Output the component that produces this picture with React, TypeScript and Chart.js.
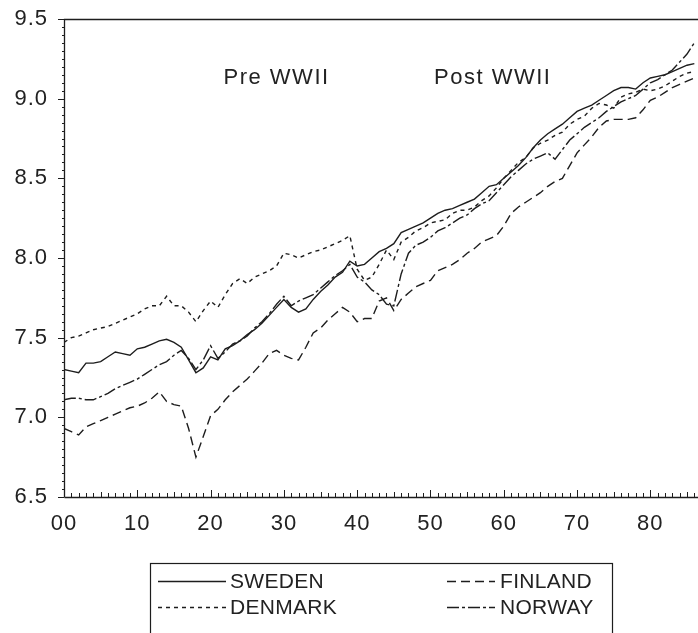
import React, { useEffect, useRef } from 'react';
import { Chart, registerables } from 'chart.js';

Chart.register(...registerables);

// ---------- data ----------
const YEARS: number[] = Array.from({ length: 87 }, (_, i) => 1900 + i);

const SWEDEN = [
  7.30, 7.29, 7.28, 7.34, 7.34, 7.35, 7.38, 7.41, 7.40, 7.39,
  7.43, 7.44, 7.46, 7.48, 7.49, 7.47, 7.44, 7.36, 7.28, 7.31,
  7.38, 7.36, 7.43, 7.45, 7.48, 7.52, 7.55, 7.59, 7.64, 7.69,
  7.74, 7.69, 7.66, 7.68, 7.74, 7.79, 7.83, 7.88, 7.91, 7.98,
  7.95, 7.96, 8.00, 8.04, 8.06, 8.09, 8.16, 8.18, 8.20, 8.22,
  8.25, 8.28, 8.30, 8.31, 8.33, 8.35, 8.37, 8.41, 8.45, 8.46,
  8.50, 8.54, 8.58, 8.63, 8.69, 8.74, 8.78, 8.81, 8.84, 8.88,
  8.92, 8.94, 8.96, 8.99, 9.02, 9.05, 9.07, 9.07, 9.06, 9.10,
  9.13, 9.14, 9.15, 9.17, 9.19, 9.21, 9.22,
];

const FINLAND = [
  6.93, 6.91, 6.89, 6.94, 6.96, 6.98, 7.00, 7.02, 7.04, 7.06,
  7.07, 7.09, 7.12, 7.16, 7.10, 7.08, 7.07, 6.93, 6.75, 6.88,
  7.01, 7.05, 7.11, 7.16, 7.20, 7.24, 7.29, 7.34, 7.40, 7.42,
  7.39, 7.37, 7.36, 7.44, 7.53, 7.56, 7.61, 7.65, 7.69, 7.66,
  7.60, 7.62, 7.62, 7.73, 7.75, 7.67, 7.74, 7.78, 7.82, 7.84,
  7.86, 7.92, 7.94, 7.96, 7.99, 8.03, 8.06, 8.10, 8.12, 8.14,
  8.20, 8.28, 8.32, 8.35, 8.38, 8.41, 8.45, 8.48, 8.50, 8.58,
  8.66, 8.71, 8.76, 8.82, 8.86, 8.87, 8.87, 8.87, 8.88, 8.93,
  8.99, 9.01, 9.04, 9.07, 9.09, 9.11, 9.13,
];

const DENMARK = [
  7.47, 7.50, 7.51, 7.53, 7.55, 7.56, 7.57, 7.59, 7.61, 7.63,
  7.65, 7.68, 7.70, 7.70, 7.76, 7.70, 7.70, 7.66, 7.60, 7.67,
  7.73, 7.69, 7.77, 7.84, 7.87, 7.84, 7.88, 7.90, 7.92, 7.95,
  8.03, 8.02, 8.00, 8.02, 8.04, 8.05, 8.07, 8.09, 8.11, 8.14,
  7.93, 7.86, 7.88, 7.96, 8.05, 7.99, 8.10, 8.13, 8.17, 8.19,
  8.22, 8.23, 8.24, 8.28, 8.30, 8.30, 8.32, 8.36, 8.39, 8.44,
  8.50, 8.55, 8.60, 8.63, 8.69, 8.72, 8.74, 8.77, 8.79, 8.84,
  8.87, 8.89, 8.94, 8.97, 8.96, 8.94, 9.01, 9.03, 9.04, 9.06,
  9.05, 9.06, 9.08, 9.11, 9.14, 9.16, 9.17,
];

const NORWAY = [
  7.11, 7.12, 7.12, 7.11, 7.11, 7.13, 7.15, 7.18, 7.20, 7.22,
  7.24, 7.27, 7.30, 7.33, 7.35, 7.39, 7.42, 7.37, 7.30, 7.36,
  7.45, 7.37, 7.41, 7.46, 7.48, 7.51, 7.56, 7.60, 7.65, 7.71,
  7.76, 7.70, 7.73, 7.75, 7.77, 7.81, 7.85, 7.89, 7.92, 7.96,
  7.88, 7.85, 7.80, 7.77, 7.71, 7.70, 7.90, 8.03, 8.08, 8.10,
  8.13, 8.17, 8.19, 8.22, 8.25, 8.27, 8.31, 8.34, 8.36, 8.41,
  8.46, 8.51, 8.55, 8.59, 8.62, 8.64, 8.66, 8.62, 8.68, 8.74,
  8.78, 8.82, 8.85, 8.88, 8.92, 8.95, 8.98, 9.00, 9.02, 9.06,
  9.10, 9.12, 9.15, 9.18, 9.23, 9.28, 9.35,
];

const X_TICKS = [1900, 1910, 1920, 1930, 1940, 1950, 1960, 1970, 1980];
const Y_TICKS = [6.5, 7.0, 7.5, 8.0, 8.5, 9.0, 9.5];
const NOTE_TEXTS = ['Pre WWII', 'Post WWII'];
const NOTE_YEARS = [1929, 1958.5];
const NOTE_VALUES = [9.13, 9.13];
const LEGEND_ROWS = [
  ['SWEDEN', 'FINLAND'],
  ['DENMARK', 'NORWAY'],
];

// ---------- style ----------
const FONT = '"Liberation Sans", Arial, sans-serif';
const INK = '#1d1d1d';
const TEXT = '#222222';
const TICK_SPACING = '1px';

const spacingPlugin = {
  id: 'scanSpacing',
  beforeLayout(chart: any) {
    chart.ctx.letterSpacing = TICK_SPACING;
  },
  beforeDraw(chart: any) {
    chart.ctx.letterSpacing = TICK_SPACING;
  },
};

const axesPlugin = {
  id: 'scanAxes',
  afterDatasetsDraw(chart: any) {
    const { ctx, chartArea: a, scales } = chart;
    const x = scales.x;
    const y = scales.y;
    ctx.save();
    ctx.strokeStyle = INK;
    ctx.lineWidth = 1.3;
    ctx.beginPath();
    ctx.moveTo(a.left + 0.5, a.bottom + 0.5);
    ctx.lineTo(a.left + 0.5, a.top + 0.5);
    ctx.lineTo(a.right + 4, a.top + 0.5);
    ctx.moveTo(a.left + 0.5, a.bottom + 0.5);
    ctx.lineTo(a.right + 4, a.bottom + 0.5);
    ctx.stroke();

    ctx.lineWidth = 1;
    ctx.beginPath();
    for (let yr = Math.ceil(x.min); yr <= x.max; yr++) {
      const px = Math.round(x.getPixelForValue(yr)) + 0.5;
      const len = yr % 10 === 0 ? 7 : yr % 5 === 0 ? 5 : 4;
      ctx.moveTo(px, a.bottom);
      ctx.lineTo(px, a.bottom - len);
    }
    const steps = Math.round((y.max - y.min) / 0.05);
    for (let i = 0; i <= steps; i++) {
      const v = y.min + i * 0.05;
      const py = Math.round(y.getPixelForValue(v)) + 0.5;
      const major = i % 10 === 0;
      ctx.moveTo(a.left - (major ? 6 : 2), py);
      ctx.lineTo(a.left + (major ? 0 : 1), py);
    }
    ctx.stroke();

    // annotations
    ctx.fillStyle = TEXT;
    ctx.font = `22px ${FONT}`;
    ctx.letterSpacing = '1.5px';
    ctx.textAlign = 'center';
    ctx.textBaseline = 'middle';
    NOTE_TEXTS.forEach((t, i) => {
      ctx.fillText(t, x.getPixelForValue(NOTE_YEARS[i]), y.getPixelForValue(NOTE_VALUES[i]));
    });
    ctx.restore();
  },
};

const legendPlugin = {
  id: 'scanLegend',
  afterDraw(chart: any) {
    const { ctx } = chart;
    const ds = chart.data.datasets;
    const box = { left: 150, right: 612, top: 563, bottom: 645 };
    const rowY = [581, 607];
    const colSample = [[158, 226], [447, 495]];
    const colText = [230, 500];
    ctx.save();
    ctx.strokeStyle = INK;
    ctx.lineWidth = 1.2;
    ctx.strokeRect(box.left + 0.5, box.top + 0.5, box.right - box.left, box.bottom - box.top);
    ctx.font = `21px ${FONT}`;
    ctx.letterSpacing = '0.3px';
    ctx.fillStyle = TEXT;
    ctx.textBaseline = 'middle';
    ctx.textAlign = 'left';
    LEGEND_ROWS.forEach((row, r) => {
      row.forEach((label, c) => {
        const d = ds.find((s: any) => s.label === label);
        if (!d) return;
        ctx.save();
        ctx.strokeStyle = d.borderColor;
        ctx.lineWidth = d.borderWidth;
        ctx.setLineDash(d.borderDash || []);
        ctx.beginPath();
        ctx.moveTo(colSample[c][0], rowY[r] + 0.5);
        ctx.lineTo(colSample[c][1], rowY[r] + 0.5);
        ctx.stroke();
        ctx.restore();
        ctx.fillText(label, colText[c], rowY[r] + 1);
      });
    });
    ctx.restore();
  },
};

export default function App() {
  const ref = useRef<HTMLCanvasElement | null>(null);

  useEffect(() => {
    if (!ref.current) return;
    const series = (vals: number[]) => YEARS.map((yr, i) => ({ x: yr, y: vals[i] }));
    const base = { borderColor: INK, borderWidth: 1.4, pointRadius: 0, tension: 0, fill: false };
    const chart = new Chart(ref.current, {
      type: 'line',
      data: {
        datasets: [
          { ...base, label: 'SWEDEN', data: series(SWEDEN), borderDash: [] },
          { ...base, label: 'FINLAND', data: series(FINLAND), borderDash: [9, 5] },
          { ...base, label: 'DENMARK', data: series(DENMARK), borderDash: [4, 4] },
          { ...base, label: 'NORWAY', data: series(NORWAY), borderDash: [12, 3, 3, 3] },
        ],
      },
      options: {
        animation: false,
        responsive: false,
        devicePixelRatio: 1,
        layout: { padding: { top: 19, left: 0, right: 0, bottom: 0 } },
        plugins: { legend: { display: false }, tooltip: { enabled: false } },
        scales: {
          x: {
            type: 'linear',
            min: 1900,
            max: 1986.5,
            grid: { display: false, drawTicks: false },
            border: { display: false },
            afterBuildTicks: (s: any) => {
              s.ticks = X_TICKS.map((v) => ({ value: v }));
            },
            afterFit: (s: any) => {
              s.height = 136;
              s.paddingLeft = 0;
              s.paddingRight = 0;
            },
            ticks: {
              autoSkip: false,
              maxRotation: 0,
              padding: 14,
              color: TEXT,
              font: { family: FONT, size: 22 },
              callback: (v: any) => String(Math.round(Number(v)) % 100).padStart(2, '0'),
            },
          },
          y: {
            type: 'linear',
            min: 6.5,
            max: 9.5,
            grid: { display: false, drawTicks: false },
            border: { display: false },
            afterBuildTicks: (s: any) => {
              s.ticks = Y_TICKS.map((v) => ({ value: v }));
            },
            afterFit: (s: any) => {
              s.width = 64;
              s.paddingTop = 0;
              s.paddingBottom = 0;
            },
            ticks: {
              padding: 16,
              color: TEXT,
              font: { family: FONT, size: 22 },
              callback: (v: any) => Number(v).toFixed(1),
            },
          },
        },
      },
      plugins: [spacingPlugin, axesPlugin, legendPlugin],
    });
    return () => chart.destroy();
  }, []);

  return (
    <div style={{ position: 'absolute', left: 0, top: 0, width: 698, height: 633, overflow: 'hidden', background: '#fff' }}>
      <canvas ref={ref} width={698} height={633} style={{ display: 'block', width: 698, height: 633 }} />
    </div>
  );
}
